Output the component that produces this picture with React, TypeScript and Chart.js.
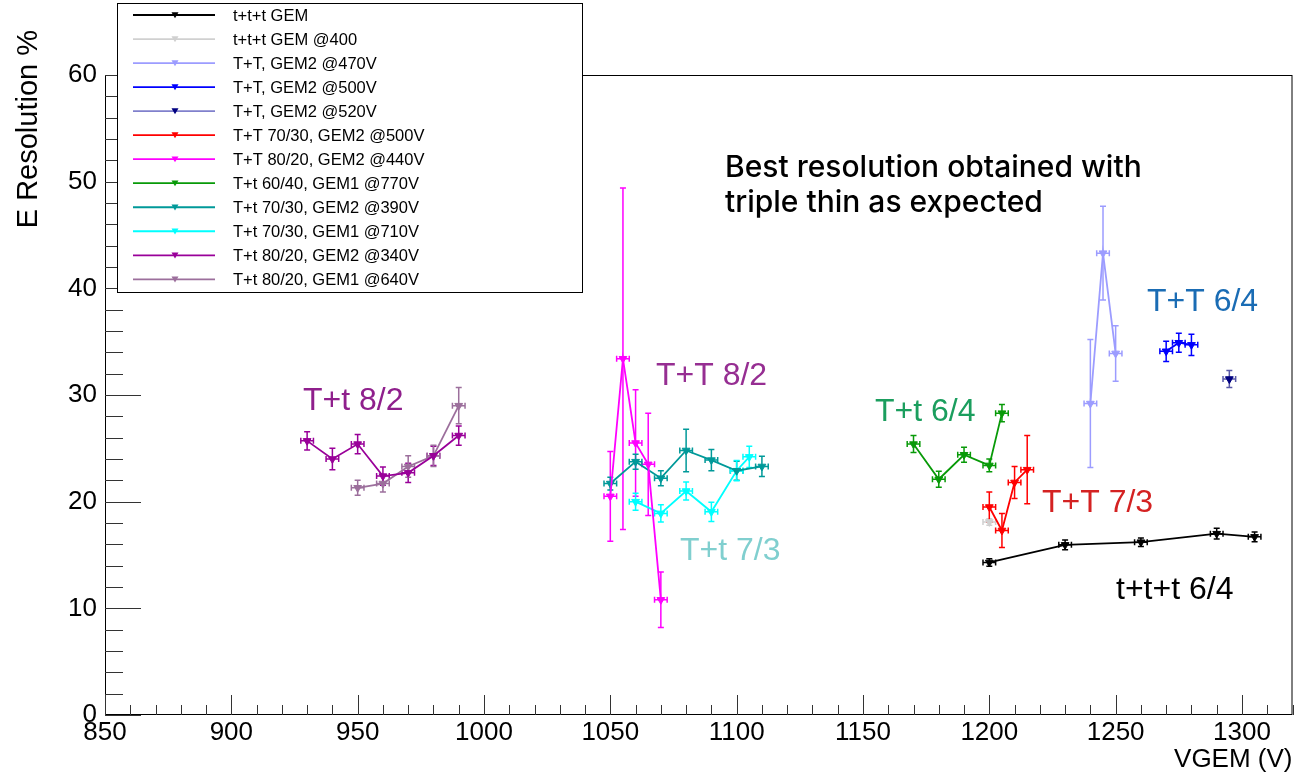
import React, { useEffect, useRef } from "react";
import { Chart, registerables } from "chart.js";

Chart.register(...registerables);

// ---------- data ----------
const SERIES_LABELS = [
  "t+t+t GEM",
  "t+t+t GEM @400",
  "T+T, GEM2 @470V",
  "T+T, GEM2 @500V",
  "T+T, GEM2 @520V",
  "T+T 70/30, GEM2 @500V",
  "T+T 80/20, GEM2 @440V",
  "T+t 60/40, GEM1 @770V",
  "T+t 70/30, GEM2 @390V",
  "T+t 70/30, GEM1 @710V",
  "T+t 80/20, GEM2 @340V",
  "T+t 80/20, GEM1 @640V",
];

const X_TTT = [1200, 1230, 1260, 1290, 1305];
const Y_TTT = [14.3, 15.95, 16.2, 17.0, 16.7];
const E_TTT = [0.35, 0.45, 0.4, 0.5, 0.45];

const X_TTT400 = [1200];
const Y_TTT400 = [18.1];
const E_TTT400 = [0.3];

const X_TT470 = [1240, 1245, 1250];
const Y_TT470 = [29.2, 43.3, 33.9];
const E_TT470 = [6.0, 4.4, 2.6];

const X_TT500 = [1270, 1275, 1280];
const Y_TT500 = [34.1, 34.9, 34.7];
const E_TT500 = [0.95, 0.9, 1.0];

const X_TT520 = [1295];
const Y_TT520 = [31.5];
const E_TT520 = [0.8];

const X_TT7030 = [1200, 1205, 1210, 1215];
const Y_TT7030 = [19.5, 17.3, 21.8, 23.0];
const E_TT7030 = [1.4, 1.6, 1.5, 3.2];

const X_TT8020 = [1050, 1055, 1060, 1065, 1070];
const Y_TT8020 = [20.5, 33.4, 25.5, 23.5, 10.8];
const E_TT8020 = [4.2, 16.0, 5.0, 4.8, 2.6];

const X_Tt6040 = [1170, 1180, 1190, 1200, 1205];
const Y_Tt6040 = [25.4, 22.1, 24.4, 23.4, 28.3];
const E_Tt6040 = [0.8, 0.75, 0.7, 0.6, 0.8];

const X_Tt7030G2 = [1050, 1060, 1070, 1080, 1090, 1100, 1110];
const Y_Tt7030G2 = [21.7, 23.75, 22.2, 24.8, 23.9, 22.9, 23.3];
const E_Tt7030G2 = [0.6, 0.7, 0.7, 2.0, 1.0, 0.9, 0.95];

const X_Tt7030G1 = [1060, 1070, 1080, 1090, 1100, 1105];
const Y_Tt7030G1 = [20.0, 18.9, 21.0, 19.05, 22.9, 24.2];
const E_Tt7030G1 = [0.8, 0.8, 0.85, 0.9, 0.95, 1.0];

const X_Tt8020G2 = [930, 940, 950, 960, 970, 980, 990];
const Y_Tt8020G2 = [25.7, 24.0, 25.4, 22.4, 22.7, 24.3, 26.2];
const E_Tt8020G2 = [0.85, 1.0, 0.9, 0.85, 0.9, 0.9, 0.9];

const X_Tt8020G1 = [950, 960, 970, 980, 990];
const Y_Tt8020G1 = [21.3, 21.7, 23.3, 24.3, 29.0];
const E_Tt8020G1 = [0.7, 0.8, 1.0, 1.0, 1.7];

const X_ERR = 2.5;

const X_TICK_LABELS = [850, 900, 950, 1000, 1050, 1100, 1150, 1200, 1250, 1300];
const Y_TICK_LABELS = [0, 10, 20, 30, 40, 50, 60];

const SERIES_X = [X_TTT, X_TTT400, X_TT470, X_TT500, X_TT520, X_TT7030, X_TT8020, X_Tt6040, X_Tt7030G2, X_Tt7030G1, X_Tt8020G2, X_Tt8020G1];
const SERIES_Y = [Y_TTT, Y_TTT400, Y_TT470, Y_TT500, Y_TT520, Y_TT7030, Y_TT8020, Y_Tt6040, Y_Tt7030G2, Y_Tt7030G1, Y_Tt8020G2, Y_Tt8020G1];
const SERIES_E = [E_TTT, E_TTT400, E_TT470, E_TT500, E_TT520, E_TT7030, E_TT8020, E_Tt6040, E_Tt7030G2, E_Tt7030G1, E_Tt8020G2, E_Tt8020G1];

const LINE_COLORS = ["#000000", "#d0d0d0", "#9c9cff", "#0000ff", "#8080cc", "#ff0000", "#ff00ff", "#089a08", "#009999", "#00ffff", "#990099", "#9c6f9c"];
const MARK_COLORS = ["#000000", "#d0d0d0", "#9c9cff", "#0000ff", "#000080", "#ff0000", "#ff00ff", "#089a08", "#009999", "#00ffff", "#990099", "#9c6f9c"];
const ERR_COLORS = ["#000000", "#d0d0d0", "#9c9cff", "#0000ff", "#5a5aa8", "#ff0000", "#ff00ff", "#089a08", "#009999", "#00ffff", "#990099", "#9c6f9c"];

const ANNOTATIONS = [
  { text: "T+t 8/2", x: 303, y: 401, color: "#8f1f8c", font: "32px 'Liberation Sans', Arial, sans-serif" },
  { text: "T+T 8/2", x: 656, y: 376, color: "#962e92", font: "32px 'Liberation Sans', Arial, sans-serif" },
  { text: "T+t 7/3", x: 680, y: 551, color: "#80cfcf", font: "32px 'Liberation Sans', Arial, sans-serif" },
  { text: "T+t 6/4", x: 875, y: 412, color: "#1b9e5e", font: "32px 'Liberation Sans', Arial, sans-serif" },
  { text: "T+T 7/3", x: 1042, y: 503, color: "#d42222", font: "32px 'Liberation Sans', Arial, sans-serif" },
  { text: "T+T 6/4", x: 1147, y: 302, color: "#1a6cb4", font: "32px 'Liberation Sans', Arial, sans-serif" },
  { text: "t+t+t 6/4", x: 1116, y: 590, color: "#000000", font: "32px 'Liberation Sans', Arial, sans-serif" },
  { text: "Best resolution obtained with", x: 725, y: 168, color: "#000000", font: "500 30px Inter, Lato, sans-serif" },
  { text: "triple thin as expected", x: 725, y: 203, color: "#000000", font: "500 30px Inter, Lato, sans-serif" },
];

const FONT = "'Liberation Sans', Arial, sans-serif";

function triangleDown(ctx: CanvasRenderingContext2D, x: number, y: number, r: number, color: string) {
  ctx.beginPath();
  ctx.moveTo(x - r, y - r * 0.8);
  ctx.lineTo(x + r, y - r * 0.8);
  ctx.lineTo(x, y + r * 0.9);
  ctx.closePath();
  ctx.fillStyle = color;
  ctx.fill();
}

const frameTicksPlugin = {
  id: "frameTicks",
  beforeDatasetsDraw(chart: any) {
    const { ctx, chartArea: a, scales } = chart;
    const xs = scales.x;
    const ys = scales.y;
    ctx.save();
    ctx.strokeStyle = "#000";
    ctx.lineWidth = 1;
    ctx.strokeRect(a.left + 0.5, a.top + 0.5, a.right - a.left - 1, a.bottom - a.top - 1);
    ctx.strokeStyle = "#333";
    ctx.beginPath();
    for (let v = 850; v <= 1320; v += 10) {
      const px = Math.round(xs.getPixelForValue(v)) + 0.5;
      const len = v % 50 === 0 ? 20 : 10;
      ctx.moveTo(px, a.bottom);
      ctx.lineTo(px, a.bottom - len);
    }
    for (let v = 0; v <= 60; v += 2) {
      const py = Math.round(ys.getPixelForValue(v)) + 0.5;
      const len = v % 10 === 0 ? 36 : 18;
      ctx.moveTo(a.left, py);
      ctx.lineTo(a.left + len, py);
    }
    ctx.stroke();

    // error bars
    chart.data.datasets.forEach((ds: any, di: number) => {
      const meta = chart.getDatasetMeta(di);
      const errs = SERIES_E[di];
      ctx.strokeStyle = ERR_COLORS[di];
      ctx.lineWidth = 1.5;
      meta.data.forEach((pt: any, i: number) => {
        const d = ds.data[i];
        const px = pt.x;
        const py = pt.y;
        const yt = ys.getPixelForValue(d.y + errs[i]);
        const yb = ys.getPixelForValue(d.y - errs[i]);
        const xl = xs.getPixelForValue(d.x - X_ERR);
        const xr = xs.getPixelForValue(d.x + X_ERR);
        ctx.beginPath();
        ctx.moveTo(px, yt);
        ctx.lineTo(px, yb);
        ctx.moveTo(px - 3, yt);
        ctx.lineTo(px + 3, yt);
        ctx.moveTo(px - 3, yb);
        ctx.lineTo(px + 3, yb);
        ctx.moveTo(xl, py);
        ctx.lineTo(xr, py);
        ctx.moveTo(xl, py - 3);
        ctx.lineTo(xl, py + 3);
        ctx.moveTo(xr, py - 3);
        ctx.lineTo(xr, py + 3);
        ctx.stroke();
      });
    });
    ctx.restore();
  },
  afterDraw(chart: any) {
    const { ctx, chartArea: a } = chart;
    ctx.save();
    // axis titles
    ctx.fillStyle = "#000";
    ctx.font = `26px ${FONT}`;
    ctx.textAlign = "right";
    ctx.textBaseline = "middle";
    ctx.fillText("VGEM (V)", a.right, 760);
    ctx.save();
    ctx.font = `29px ${FONT}`;
    ctx.translate(29, 30);
    ctx.rotate(-Math.PI / 2);
    ctx.textAlign = "right";
    ctx.textBaseline = "middle";
    ctx.fillText("E Resolution %", 0, 0);
    ctx.restore();

    // annotations
    ANNOTATIONS.forEach((an) => {
      ctx.font = an.font;
      ctx.fillStyle = an.color;
      ctx.textAlign = "left";
      ctx.textBaseline = "middle";
      ctx.fillText(an.text, an.x, an.y);
    });

    // legend
    const L = 117, T = 3, R = 582, B = 292;
    ctx.fillStyle = "#fff";
    ctx.fillRect(L, T, R - L, B - T);
    ctx.strokeStyle = "#000";
    ctx.lineWidth = 1;
    ctx.strokeRect(L + 0.5, T + 0.5, R - L, B - T);
    chart.data.datasets.forEach((ds: any, i: number) => {
      const y = 15 + i * 24.03;
      ctx.strokeStyle = LINE_COLORS[i];
      ctx.lineWidth = 1.8;
      ctx.beginPath();
      ctx.moveTo(133, y);
      ctx.lineTo(215, y);
      ctx.stroke();
      triangleDown(ctx, 175, y, 3.5, MARK_COLORS[i]);
      ctx.fillStyle = "#000";
      ctx.font = `16.5px ${FONT}`;
      ctx.textAlign = "left";
      ctx.textBaseline = "middle";
      ctx.fillText(ds.label, 233, y + 1);
    });
    ctx.restore();
  },
};

export default function App() {
  const ref = useRef<HTMLCanvasElement | null>(null);
  useEffect(() => {
    if (!ref.current) return;
    const datasets = SERIES_LABELS.map((label, i) => ({
      label,
      data: SERIES_X[i].map((x, j) => ({ x, y: SERIES_Y[i][j] })),
      borderColor: LINE_COLORS[i],
      backgroundColor: MARK_COLORS[i],
      pointBackgroundColor: MARK_COLORS[i],
      pointBorderColor: MARK_COLORS[i],
      pointStyle: "triangle" as const,
      pointRotation: 180,
      pointRadius: 4.5,
      pointBorderWidth: 1,
      borderWidth: 1.8,
      showLine: true,
      tension: 0,
      fill: false,
    }));
    const chart = new Chart(ref.current, {
      type: "line",
      data: { datasets },
      options: {
        responsive: false,
        animation: false,
        layout: { padding: { top: 75, right: 1, left: 0, bottom: 0 } },
        plugins: { legend: { display: false }, tooltip: { enabled: false } },
        scales: {
          x: {
            type: "linear",
            min: 850,
            max: 1320,
            afterBuildTicks: (s: any) => {
              s.ticks = X_TICK_LABELS.map((v) => ({ value: v }));
            },
            ticks: {
              color: "#000",
              font: { family: FONT, size: 26 },
              padding: 2,
              maxRotation: 0,
              autoSkip: false,
              callback: (v: any) => String(v),
            },
            grid: { display: false, drawTicks: false },
            border: { display: false },
            afterFit: (s: any) => {
              s.height = 60;
            },
          },
          y: {
            type: "linear",
            min: 0,
            max: 60,
            afterBuildTicks: (s: any) => {
              s.ticks = Y_TICK_LABELS.map((v) => ({ value: v }));
            },
            ticks: {
              color: "#000",
              font: { family: FONT, size: 26 },
              padding: 8,
              callback: (v: any) => String(v),
            },
            grid: { display: false, drawTicks: false },
            border: { display: false },
            afterFit: (s: any) => {
              s.width = 105;
            },
          },
        },
      },
      plugins: [frameTicksPlugin],
    });
    return () => chart.destroy();
  }, []);
  return (
    <div style={{ position: "absolute", left: 0, top: 0, width: 1298, height: 775, background: "#fff" }}>
      <canvas ref={ref} width={1298} height={775} style={{ display: "block" }} />
    </div>
  );
}
